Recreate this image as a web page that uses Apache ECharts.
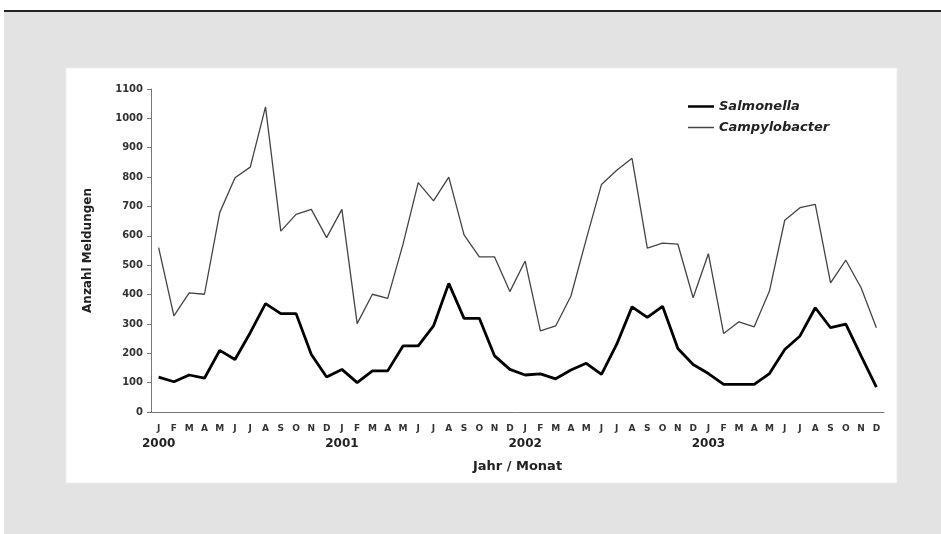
<!DOCTYPE html>
<html>
<head>
<meta charset="utf-8">
<script src="https://cdn.jsdelivr.net/npm/echarts@6/dist/echarts.min.js"></script>
<style>
html,body{margin:0;padding:0;background:#fff;}
#chart{width:941px;height:534px;}
</style>
</head>
<body>
<div id="chart"></div>
<script>
var monthLetters = ['J','F','M','A','M','J','J','A','S','O','N','D'];
var years = ['2000','2001','2002','2003'];
var salmonella = [119,103,126,115,210,179,270,369,335,335,196,119,
                  145,100,140,140,225,225,293,438,319,319,191,145,
                  126,130,113,143,166,128,231,358,322,360,216,162,
                  131,94,94,94,131,213,259,355,287,299,191,85];
var campylobacter = [560,327,406,401,679,798,834,1039,616,673,690,594,
                     690,301,401,387,571,781,719,800,603,528,528,410,
                     514,276,293,395,588,775,823,864,558,575,572,389,
                     539,267,307,290,412,653,696,707,440,517,423,287];
var yTicks = {min:0, max:1100, interval:100};

var categories = [];
years.forEach(function(y){ monthLetters.forEach(function(m,i){ categories.push(y+'-'+i); }); });

var FONT = 'DejaVu Sans, Liberation Sans, Arial, sans-serif';
var chart = echarts.init(document.getElementById('chart'));
chart.setOption({
  animation:false,
  textStyle:{fontFamily:FONT},
  graphic:[
    {type:'rect', shape:{x:4,y:12,width:937,height:522}, style:{fill:'#e3e3e3'}, z:-10},
    {type:'rect', shape:{x:4,y:10,width:937,height:2}, style:{fill:'#222'}, z:-9},
    {type:'rect', shape:{x:66,y:68,width:831,height:415}, style:{fill:'#ffffff', stroke:'#eeeeee', lineWidth:1}, z:-8}
  ],
  grid:{left:151, right:57, top:89, bottom:122},
  legend:{
    orient:'vertical', left:683, top:95, itemWidth:26, itemHeight:14, itemGap:8,
    textStyle:{fontFamily:FONT, fontStyle:'italic', fontWeight:'bold', fontSize:13, color:'#222'},
    data:[
      {name:'Salmonella', icon:'path://M0,0 L26,0 L26,2.5 L0,2.5 Z', itemStyle:{color:'#000'}},
      {name:'Campylobacter', icon:'path://M0,0 L26,0 L26,1.5 L0,1.5 Z', itemStyle:{color:'#444'}}
    ]
  },
  xAxis:{
    type:'category', data:categories, boundaryGap:true,
    name:'Jahr / Monat', nameLocation:'middle', nameGap:48,
    nameTextStyle:{fontFamily:FONT, fontWeight:'bold', fontSize:13, color:'#222'},
    axisLine:{lineStyle:{color:'#777', width:1}},
    axisTick:{alignWithLabel:true, length:4, lineStyle:{color:'#777'}},
    axisLabel:{
      interval:0, margin:10,
      formatter:function(v){
        var p=v.split('-'); var i=+p[1];
        var s='{m|'+monthLetters[i]+'}';
        s += '\n' + (i===0 ? '{y|'+p[0]+'}' : '{y| }');
        return s;
      },
      rich:{
        m:{fontFamily:FONT, fontSize:9, fontWeight:'bold', color:'#333', lineHeight:13},
        y:{fontFamily:FONT, fontSize:12, fontWeight:'bold', color:'#222', lineHeight:17}
      }
    },
    splitLine:{show:false}
  },
  yAxis:{
    type:'value', min:yTicks.min, max:yTicks.max, interval:yTicks.interval,
    name:'Anzahl Meldungen', nameLocation:'middle', nameGap:57,
    nameTextStyle:{fontFamily:FONT, fontWeight:'bold', fontSize:12, color:'#222'},
    axisLine:{show:true, lineStyle:{color:'#777', width:1}},
    axisTick:{show:true, length:4, lineStyle:{color:'#777'}},
    axisLabel:{margin:8, fontFamily:FONT, fontSize:10, fontWeight:'bold', color:'#333',
               formatter:function(v){ return String(v); }},
    splitLine:{show:false}
  },
  series:[
    {name:'Salmonella', type:'line', data:salmonella, symbol:'none',
     lineStyle:{color:'#000', width:2.8}, itemStyle:{color:'#000'}, z:3},
    {name:'Campylobacter', type:'line', data:campylobacter, symbol:'none',
     lineStyle:{color:'#444', width:1.3}, itemStyle:{color:'#444'}, z:2}
  ]
});
</script>
</body>
</html>
